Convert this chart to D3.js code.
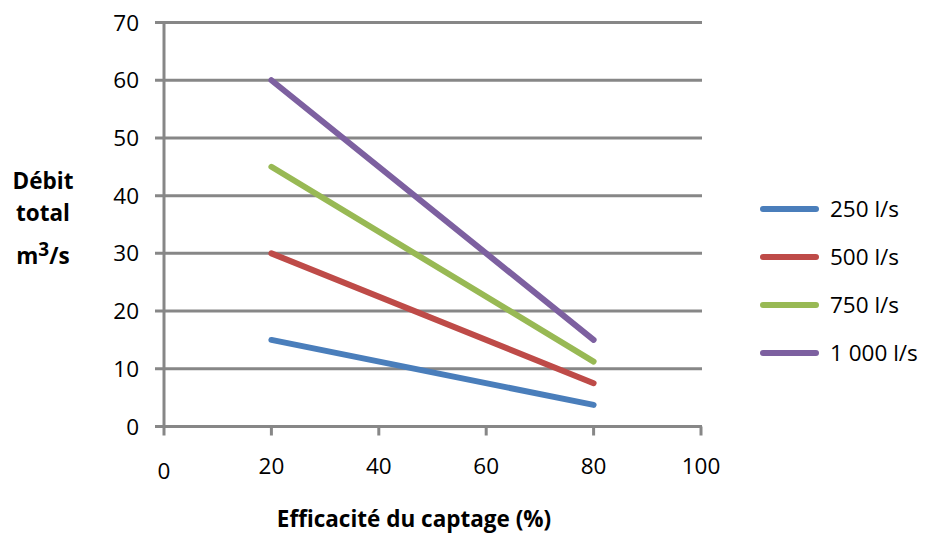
<!DOCTYPE html>
<html>
<head>
<meta charset="utf-8">
<script src="https://cdn.jsdelivr.net/npm/d3@7"></script>
<style>
  html, body { margin: 0; padding: 0; background: #fff; }
  svg { display: block; font-family: "Open Sans", "Noto Sans", sans-serif; }
</style>
</head>
<body>
<svg id="chart" width="925" height="535"></svg>
<script>
// Efficacité du captage (%) on the x axis
const efficiency = [20, 80];
// Débit total (m³/s) for each capture flow
const series = ["250 l/s", "500 l/s", "750 l/s", "1 000 l/s"];
const values250 = [15, 3.75];
const values500 = [30, 7.5];
const values750 = [45, 11.25];
const values1000 = [60, 15];
const seriesValues = [values250, values500, values750, values1000];
const colors = ["#4a7ebb", "#be4b48", "#98b954", "#7d60a0"];
const xTicks = [0, 20, 40, 60, 80, 100];
const yTicks = [0, 10, 20, 30, 40, 50, 60, 70];

const svg = d3.select("#chart");
const axisColor = "#878787";
const fs = 22.5;

const x = d3.scaleLinear().domain([0, 100]).range([164, 701]);
const y = d3.scaleLinear().domain([0, 70]).range([426.5, 22.5]);

// horizontal gridlines (they also carry the left tick stubs)
svg.append("g").selectAll("line").data(yTicks).join("line")
  .attr("x1", 155).attr("x2", x(100) + 1)
  .attr("y1", d => y(d)).attr("y2", d => y(d))
  .attr("stroke", axisColor).attr("stroke-width", 3);

// y axis line
svg.append("line")
  .attr("x1", x(0)).attr("x2", x(0))
  .attr("y1", y(70) - 1.5).attr("y2", y(0) + 1.5)
  .attr("stroke", axisColor).attr("stroke-width", 3);

// x tick marks below the axis
svg.append("g").selectAll("line").data(xTicks).join("line")
  .attr("x1", d => x(d)).attr("x2", d => x(d))
  .attr("y1", y(0)).attr("y2", y(0) + 9)
  .attr("stroke", axisColor).attr("stroke-width", 3);

// y tick labels
svg.append("g").selectAll("text").data(yTicks).join("text")
  .attr("x", 139).attr("y", d => y(d) + 8)
  .attr("text-anchor", "end")
  .attr("font-size", fs).attr("fill", "#000")
  .text(d => d);

// x tick labels (the 0 sits slightly lower)
svg.append("g").selectAll("text").data(xTicks).join("text")
  .attr("x", d => x(d)).attr("y", d => d === 0 ? 479 : 474)
  .attr("text-anchor", "middle")
  .attr("font-size", fs).attr("fill", "#000")
  .text(d => d);

// series lines
const line = d3.line().x((d, i) => x(efficiency[i])).y(d => y(d));
svg.append("g").selectAll("path").data(seriesValues).join("path")
  .attr("d", d => line(d))
  .attr("fill", "none")
  .attr("stroke", (d, i) => colors[i])
  .attr("stroke-width", 6)
  .attr("stroke-linecap", "round");

// legend
const legend = svg.append("g").selectAll("g").data(series).join("g")
  .attr("transform", (d, i) => `translate(0, ${209 + i * 48})`);
legend.append("line")
  .attr("x1", 763).attr("x2", 816).attr("y1", 0).attr("y2", 0)
  .attr("stroke", (d, i) => colors[i])
  .attr("stroke-width", 6).attr("stroke-linecap", "round");
legend.append("text")
  .attr("x", 830).attr("y", 8)
  .attr("font-size", fs).attr("fill", "#000")
  .text(d => d);

// y axis title
const yTitle = svg.append("text")
  .attr("text-anchor", "middle")
  .attr("font-size", fs).attr("font-weight", "bold").attr("fill", "#000");
yTitle.append("tspan").attr("x", 43).attr("y", 189).text("Débit");
yTitle.append("tspan").attr("x", 43).attr("y", 221).text("total");
const unit = yTitle.append("tspan").attr("x", 43).attr("y", 264);
unit.text("m");
yTitle.append("tspan").attr("font-size", 19).attr("dy", -8).text("3");
yTitle.append("tspan").attr("dy", 8).text("/s");

// x axis title
svg.append("text")
  .attr("x", 414).attr("y", 527)
  .attr("text-anchor", "middle")
  .attr("font-size", fs).attr("font-weight", "bold").attr("fill", "#000")
  .text("Efficacité du captage (%)");
</script>
</body>
</html>
